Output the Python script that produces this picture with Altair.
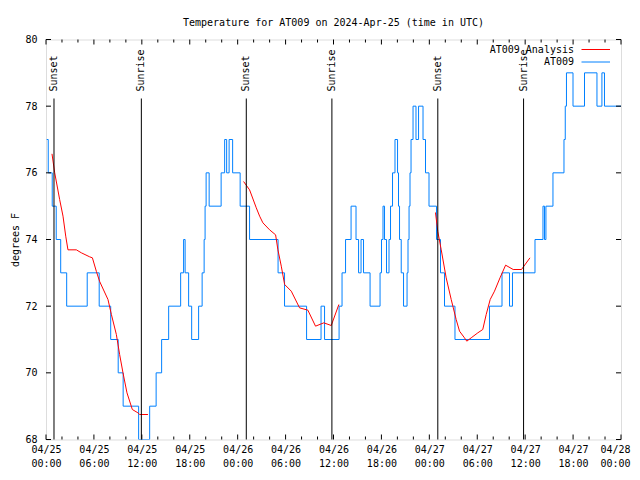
import altair as alt
import pandas as pd

# ---- data (hours since 2024-04-25 00:00 UTC) ----
obs_hours = [0.09, 0.28, 0.78, 1.28, 1.84, 2.59, 5.16, 6.66, 8.10, 9.04, 9.66, 11.60,
             12.98, 13.79, 14.48, 15.36, 16.86, 17.23, 17.42, 17.86, 18.24, 19.11, 19.55,
             19.80, 19.92, 20.05, 20.43, 21.93, 22.37, 22.62, 22.93, 23.37, 24.31, 25.49,
             29.06, 29.87, 32.63, 34.44, 34.88, 36.70, 37.07, 37.51, 38.20, 38.82, 39.14,
             39.45, 39.76, 40.58, 41.83, 42.01, 42.20, 42.39, 42.64, 42.95, 43.14, 43.39,
             43.70, 44.02, 44.14, 44.27, 44.48, 44.77, 45.21, 45.33, 45.46, 45.58, 45.71,
             45.96, 46.33, 46.65, 47.21, 47.52, 47.96, 48.90, 49.40, 49.90, 51.21, 55.53,
             57.10, 58.04, 58.41, 61.23, 62.23, 62.42, 62.60, 63.48, 64.86, 65.02, 65.17,
             65.99, 67.43, 68.99, 69.61, 69.93, 72.0]
obs_temp = [77, 76, 75, 74, 73, 72, 73, 72, 71, 70, 69, 68,
            69, 70, 71, 72, 73, 74, 73, 72, 71, 72, 73,
            74, 75, 76, 75, 76, 77, 76, 77, 76, 75, 74,
            73, 72, 71, 72, 71, 72, 73, 74, 75, 74, 73,
            74, 73, 72, 73, 74, 75, 74, 73, 74, 75, 76,
            77, 76, 75, 74, 73, 72, 73, 74, 75, 76, 77,
            78, 77, 78, 77, 76, 75, 74, 73, 72, 71, 72,
            73, 72, 73, 74, 75, 74, 75, 76, 77, 78, 79,
            78, 79, 78, 79, 78, 78]

ana_seg = [1] * 22 + [2] * 17 + [3] * 20
ana_hours = [0.75, 1.09, 1.71, 2.13, 2.47, 2.75, 3.80, 4.43, 5.47, 5.81, 6.31, 6.72,
             7.76, 8.19, 8.81, 9.22, 9.64, 10.14, 10.81, 11.51, 11.73, 12.77,
             24.74, 25.49, 26.33, 26.75, 27.16, 28.00, 28.75, 29.04, 29.46, 29.88,
             30.71, 31.75, 32.79, 33.75, 34.79, 35.72, 36.67,
             48.77, 49.06, 49.49, 50.11, 50.74, 51.36, 51.78, 52.40, 52.69, 53.24,
             54.07, 54.69, 55.12, 55.62, 56.16, 56.85, 57.55, 58.50, 59.54, 60.60]
ana_temp = [76.57, 76.00, 75.20, 74.70, 74.10, 73.69, 73.69, 73.60, 73.48, 73.45, 73.04, 72.74,
            72.20, 71.75, 71.15, 70.55, 70.00, 69.40, 68.90, 68.80, 68.75, 68.75,
            75.74, 75.49, 74.95, 74.70, 74.50, 74.29, 74.14, 73.69, 73.20, 72.65,
            72.45, 71.95, 71.88, 71.40, 71.50, 71.42, 72.05,
            74.81, 74.24, 73.69, 72.85, 72.20, 71.60, 71.25, 71.05, 70.95, 71.05,
            71.20, 71.30, 71.75, 72.20, 72.45, 72.85, 73.23, 73.10, 73.10, 73.45]

event_hours = [1.00, 11.94, 25.08, 35.80, 49.06, 59.80]
event_labels = ["Sunset", "Sunrise", "Sunset", "Sunrise", "Sunset", "Sunrise"]

major_x_ticks = [0, 6, 12, 18, 24, 30, 36, 42, 48, 54, 60, 66, 72]
minor_x_ticks = [2, 4, 8, 10, 14, 16, 20, 22, 26, 28, 32, 34, 38, 40, 44, 46, 50, 52,
                 56, 58, 62, 64, 68, 70]
y_ticks = [68, 70, 72, 74, 76, 78, 80]

legend_labels = ["AT009 Analysis", "AT009"]
legend_colors = ["#ff0000", "#0080ff"]

FONT = "DejaVu Sans Mono"
W, H = 575, 400

obs = pd.DataFrame({"h": obs_hours, "t": obs_temp})
ana = pd.DataFrame({"h": ana_hours, "t": ana_temp, "seg": ana_seg})
events = pd.DataFrame({"h": event_hours, "label": event_labels})
major = pd.DataFrame({"h": major_x_ticks})
minor = pd.DataFrame({"h": minor_x_ticks})
yt = pd.DataFrame({"v": y_ticks})

label_expr = ("['04/' + (25 + floor(datum.value / 24)), "
              "(datum.value % 24 < 10 ? '0' : '') + (datum.value % 24) + ':00']")

xscale = alt.Scale(domain=[0, 72], nice=False, zero=False)
yscale = alt.Scale(domain=[68, 80], nice=False, zero=False)

x_enc = alt.X("h:Q", scale=xscale,
              axis=alt.Axis(values=major_x_ticks, labelExpr=label_expr, tickSize=0,
                            domain=False, grid=False, title=None, labelFont=FONT,
                            labelFontSize=10, labelColor="black", labelPadding=5,
                            labelLineHeight=14, labelFlush=False, labelBaseline="top",
                            labelOffset={"condition": {"test": "datum.value == 72",
                                                       "value": -6},
                                         "value": 0}))
y_enc = alt.Y("t:Q", scale=yscale,
              axis=alt.Axis(values=y_ticks, tickSize=0, domain=False, grid=False,
                            title="degrees F", titleFont=FONT, titleFontSize=10,
                            titleFontWeight="normal", titleColor="black", titlePadding=4,
                            labelFont=FONT, labelFontSize=10, labelColor="black",
                            labelPadding=9))

blue = alt.Chart(obs).mark_line(color="#0080ff", strokeWidth=1, interpolate="step-after",
                                clip=True).encode(x=x_enc, y=y_enc)
red = alt.Chart(ana).mark_line(color="#ff0000", strokeWidth=1, clip=True).encode(
    x="h:Q", y="t:Q", detail="seg:N")

ev_rules = alt.Chart(events).mark_rule(color="black", strokeWidth=1).encode(
    x="h:Q", y=alt.value(59), y2=alt.value(H))
ev_text = alt.Chart(events).mark_text(angle=270, align="left", baseline="middle",
                                      font=FONT, fontSize=10, color="black").encode(
    x="h:Q", y=alt.value(52), text="label:N")

tick_major_b = alt.Chart(major).mark_rule(color="black").encode(
    x="h:Q", y=alt.value(H), y2=alt.value(H - 5))
tick_major_t = alt.Chart(major).mark_rule(color="black").encode(
    x="h:Q", y=alt.value(0), y2=alt.value(5))
tick_minor_b = alt.Chart(minor).mark_rule(color="black").encode(
    x="h:Q", y=alt.value(H), y2=alt.value(H - 3))
tick_minor_t = alt.Chart(minor).mark_rule(color="black").encode(
    x="h:Q", y=alt.value(0), y2=alt.value(3))
tick_y_l = alt.Chart(yt).mark_rule(color="black").encode(
    y=alt.Y("v:Q"), x=alt.value(0), x2=alt.value(5))
tick_y_r = alt.Chart(yt).mark_rule(color="black").encode(
    y=alt.Y("v:Q"), x=alt.value(W), x2=alt.value(W - 5))

legend_layers = []
for i, (lab, col) in enumerate(zip(legend_labels, legend_colors)):
    ly = 10 + i * 12.5
    legend_layers.append(
        alt.Chart(pd.DataFrame({"label": [lab]})).mark_text(
            align="right", baseline="middle", font=FONT, fontSize=10, color="black"
        ).encode(text="label:N", x=alt.value(528), y=alt.value(ly)))
    legend_layers.append(
        alt.Chart(pd.DataFrame({"label": [lab]})).mark_rule(color=col, strokeWidth=1).encode(
            x=alt.value(535.5), x2=alt.value(564), y=alt.value(ly)))

chart = alt.layer(
    blue, red, ev_rules, ev_text,
    tick_major_b, tick_major_t, tick_minor_b, tick_minor_t, tick_y_l, tick_y_r,
    *legend_layers
).properties(
    width=W, height=H,
    title=alt.TitleParams("Temperature for AT009 on 2024-Apr-25 (time in UTC)",
                          font=FONT, fontSize=10, fontWeight="normal", color="black",
                          anchor="middle", offset=7),
    autosize=alt.AutoSizeParams(type="none"),
    padding={"left": 38, "top": 31.5, "right": 10, "bottom": 28},
).configure_view(stroke="black", strokeWidth=1).configure(background="white")

chart.save("out.html", embed_options={"renderer": "svg", "actions": False})
